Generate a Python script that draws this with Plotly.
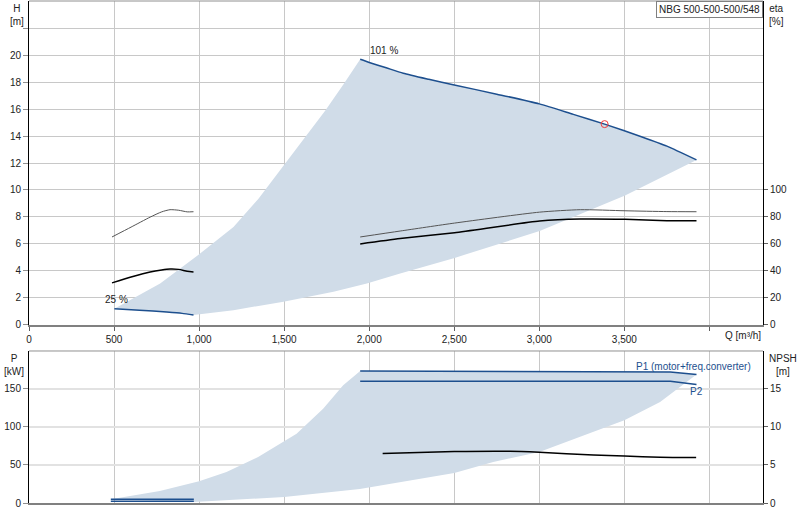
import plotly.graph_objects as go

# ---- data ----
# head curves H [m] vs Q [m3/h]
q_101 = [1947, 2000, 2100, 2200, 2350, 2500, 2750, 3000, 3200, 3384, 3600, 3750, 3924]
h_101 = [19.68, 19.45, 19.05, 18.65, 18.2, 17.78, 17.1, 16.38, 15.6, 14.88, 13.95, 13.25, 12.23]
q_25 = [502, 650, 810, 900, 967]
h_25 = [1.2, 1.1, 0.96, 0.86, 0.74]

# limits of the operating range (shaded)
q_lim_up = [502, 771, 1006, 1202, 1349, 1496, 1633, 1741, 1849, 1947]
h_lim_up = [1.2, 3.07, 5.29, 7.26, 9.35, 11.8, 14.15, 15.87, 17.84, 19.68]
q_lim_lo = [967, 1202, 1496, 1790, 1986, 2182, 2502, 3002, 3504, 3924]
h_lim_lo = [0.74, 1.1, 1.72, 2.46, 3.07, 3.81, 4.97, 6.96, 9.59, 12.23]

# duty point
q_duty = [3384]
h_duty = [14.88]

# efficiency eta [%]
q_eta_101 = [1947, 2182, 2502, 3002, 3241, 3504, 3750, 3924]
eta_pump_101 = [65.2, 69.6, 75.5, 83.6, 85.4, 84.6, 84.0, 83.9]
eta_tot_101 = [60.0, 64.0, 68.4, 77.0, 78.5, 78.3, 77.2, 77.2]
q_eta_25 = [488, 600, 712, 780, 829, 880, 930, 967]
eta_pump_25 = [65.2, 72.5, 79.9, 83.8, 85.4, 85.0, 83.8, 83.9]
eta_tot_25 = [31.2, 35.5, 39.3, 40.8, 41.5, 41.2, 39.8, 39.3]

# power P [kW]
q_p_101 = [1947, 2500, 3000, 3500, 3770, 3924]
p1_101 = [173.8, 173.6, 173.4, 172.8, 172.5, 169.0]
p2_101 = [160.1, 160.1, 160.1, 160.1, 160.1, 155.8]
q_p_25 = [481, 969]
p1_25 = [4.9, 4.9]
p2_25 = [2.2, 2.2]

q_plim_up = [481, 769, 1000, 1161, 1347, 1500, 1573, 1729, 1847, 1947]
p_lim_up = [4.9, 15.8, 28.5, 40.8, 60.5, 81, 91, 124, 155, 173.8]
q_plim_lo = [969, 1500, 1945, 2500, 2729, 3000, 3102, 3500, 3710, 3924]
p_lim_lo = [1.3, 7.9, 18.5, 39.5, 54, 67, 76, 108.8, 133, 169.0]

# NPSH [m]
q_npsh = [2079, 2500, 2827, 3000, 3318, 3500, 3710, 3922]
npsh = [6.5, 6.76, 6.8, 6.67, 6.32, 6.18, 6.01, 5.97]

q_ticks = [0, 500, 1000, 1500, 2000, 2500, 3000, 3500, 4000]
q_ticktext = ['0', '500', '1,000', '1,500', '2,000', '2,500', '3,000', '3,500', '']
h_ticks = list(range(0, 24, 2))
h_ticktext = [str(v) for v in range(0, 22, 2)] + ['']
eta_ticks = [0, 20, 40, 60, 80, 100]
p_ticks = [0, 50, 100, 150]
npsh_ticks = [0, 5, 10, 15]

BLUE = '#1d4f8e'
FILL = 'rgba(208,220,232,1)'
FONT = 'Liberation Sans, Arial, sans-serif'
FS = 10

fig = go.Figure()

# shaded operating area, top
fig.add_trace(go.Scatter(
    x=q_lim_up + q_101[1:] + q_lim_lo[::-1][1:] + q_25[::-1][1:],
    y=h_lim_up + h_101[1:] + h_lim_lo[::-1][1:] + h_25[::-1][1:],
    fill='toself', fillcolor=FILL, line=dict(width=0), mode='lines',
    hoverinfo='skip', xaxis='x', yaxis='y'))

fig.add_trace(go.Scatter(x=q_101, y=h_101, mode='lines',
                         line=dict(color=BLUE, width=1.5, shape='spline', smoothing=0.6),
                         xaxis='x', yaxis='y'))
fig.add_trace(go.Scatter(x=q_25, y=h_25, mode='lines',
                         line=dict(color=BLUE, width=1.5, shape='spline', smoothing=0.6),
                         xaxis='x', yaxis='y'))
fig.add_trace(go.Scatter(x=q_duty, y=h_duty, mode='markers',
                         marker=dict(symbol='circle-open', size=7, color='#f03c3c', line=dict(width=1)),
                         xaxis='x', yaxis='y'))

# efficiency
for qq, ee, col, w in [(q_eta_101, eta_pump_101, '#555555', 1),
                       (q_eta_101, eta_tot_101, '#000000', 1.5),
                       (q_eta_25, eta_pump_25, '#555555', 1),
                       (q_eta_25, eta_tot_25, '#000000', 1.5)]:
    fig.add_trace(go.Scatter(x=qq, y=ee, mode='lines',
                             line=dict(color=col, width=w, shape='spline', smoothing=0.6),
                             xaxis='x', yaxis='y2'))

# shaded operating area, bottom
fig.add_trace(go.Scatter(
    x=q_plim_up + q_p_101[1:] + q_plim_lo[::-1][1:] + [q_p_25[0]],
    y=p_lim_up + p1_101[1:] + p_lim_lo[::-1][1:] + [p1_25[0]],
    fill='toself', fillcolor=FILL, line=dict(width=0), mode='lines',
    hoverinfo='skip', xaxis='x2', yaxis='y3'))

for qq, pp in [(q_p_101, p1_101), (q_p_101, p2_101), (q_p_25, p1_25), (q_p_25, p2_25)]:
    fig.add_trace(go.Scatter(x=qq, y=pp, mode='lines', line=dict(color=BLUE, width=1.5),
                             xaxis='x2', yaxis='y3'))

fig.add_trace(go.Scatter(x=q_npsh, y=npsh, mode='lines',
                         line=dict(color='#000000', width=1.5, shape='spline', smoothing=0.6),
                         xaxis='x2', yaxis='y4'))

tickfont = dict(family=FONT, size=FS, color='#222222')
common_x = dict(range=[0, 4315], tickvals=q_ticks, showgrid=True, gridcolor='#c8c8c8',
                gridwidth=1, zeroline=False, showline=True, linecolor='#808080', linewidth=2)

fig.update_layout(
    width=800, height=520,
    margin=dict(l=29, r=37, t=1, b=17),
    paper_bgcolor='white', plot_bgcolor='white',
    showlegend=False,
    font=dict(family=FONT, size=FS, color='#222222'),
    xaxis=dict(common_x, anchor='y', ticktext=q_ticktext, ticks='outside', ticklen=4,
               tickcolor='#606060', tickfont=tickfont),
    yaxis=dict(domain=[0.3546, 1], range=[0, 24], tickvals=h_ticks, ticktext=h_ticktext,
               showgrid=True, gridcolor='#c8c8c8', zeroline=False, showline=True,
               linecolor='#000000', linewidth=1, ticks='outside', ticklen=5,
               tickcolor='#909090', tickfont=tickfont),
    yaxis2=dict(overlaying='y', side='right', range=[0, 240], tickvals=eta_ticks,
                showgrid=False, zeroline=False, showline=True, linecolor='#000000',
                linewidth=1, ticks='outside', ticklen=4, tickcolor='#606060', tickfont=tickfont),
    xaxis2=dict(common_x, anchor='y3', showticklabels=False, ticks=''),
    yaxis3=dict(domain=[0, 0.3028], range=[0, 200], tickvals=p_ticks, showgrid=True,
                gridcolor='#e2e2e2', gridwidth=2, zeroline=False, showline=True,
                linecolor='#000000', linewidth=1, ticks='outside', ticklen=5,
                tickcolor='#909090', tickfont=tickfont),
    yaxis4=dict(overlaying='y3', side='right', range=[0, 20], tickvals=npsh_ticks,
                showgrid=False, zeroline=False, showline=True, linecolor='#000000',
                linewidth=1, ticks='outside', ticklen=4, tickcolor='#606060', tickfont=tickfont),
)

# top borders of both plots
for yref in ['y domain', 'y3 domain']:
    fig.add_shape(type='line', xref='x domain', yref=yref, x0=0, x1=1, y0=1, y1=1,
                  line=dict(color='#909090', width=1))

ann = dict(showarrow=False, font=dict(family=FONT, size=FS, color='#222222'))
fig.add_annotation(ann, text='H<br>[m]', xref='paper', yref='paper', x=-0.016, y=1.0,
                   xanchor='center', yanchor='top')
fig.add_annotation(ann, text='eta<br>[%]', xref='paper', yref='paper', x=1.005, y=1.0,
                   xanchor='left', yanchor='top')
fig.add_annotation(ann, text='Q [m³/h]', xref='paper', yref='paper', x=1.0, y=0.333,
                   xanchor='right', yanchor='middle')
fig.add_annotation(ann, text='P<br>[kW]', xref='paper', yref='paper', x=-0.021, y=0.303,
                   xanchor='center', yanchor='top')
fig.add_annotation(ann, text='NPSH<br>[m]', xref='paper', yref='paper', x=1.005, y=0.303,
                   xanchor='left', yanchor='top')
fig.add_annotation(ann, text='NBG 500-500-500/548', xref='x domain', yref='y domain',
                   x=1, y=1, xanchor='right', yanchor='top', bordercolor='#808080',
                   borderwidth=1, borderpad=2, bgcolor='white')
fig.add_annotation(ann, text='101 %', x=q_101[0], y=h_101[0], xref='x', yref='y',
                   xanchor='left', yanchor='middle', xshift=8, yshift=9)
fig.add_annotation(ann, text='25 %', x=q_25[0], y=h_25[0], xref='x', yref='y',
                   xanchor='center', yanchor='middle', xshift=2, yshift=9)
fig.add_annotation(showarrow=False, font=dict(family=FONT, size=FS, color=BLUE),
                   text='P1 (motor+freq.converter)', x=q_p_101[-1], y=p1_101[-1],
                   xref='x2', yref='y3', xanchor='right', yanchor='middle', xshift=57, yshift=8)
fig.add_annotation(showarrow=False, font=dict(family=FONT, size=FS, color=BLUE),
                   text='P2', x=q_p_101[-1], y=p2_101[-1], xref='x2', yref='y3',
                   xanchor='center', yanchor='middle', yshift=-7)

# the page body has a default 8px margin; drop it so the chart sits at the window origin
fig.write_html("out.html", config={'displayModeBar': False},
               post_script="document.body.style.margin='0';")
